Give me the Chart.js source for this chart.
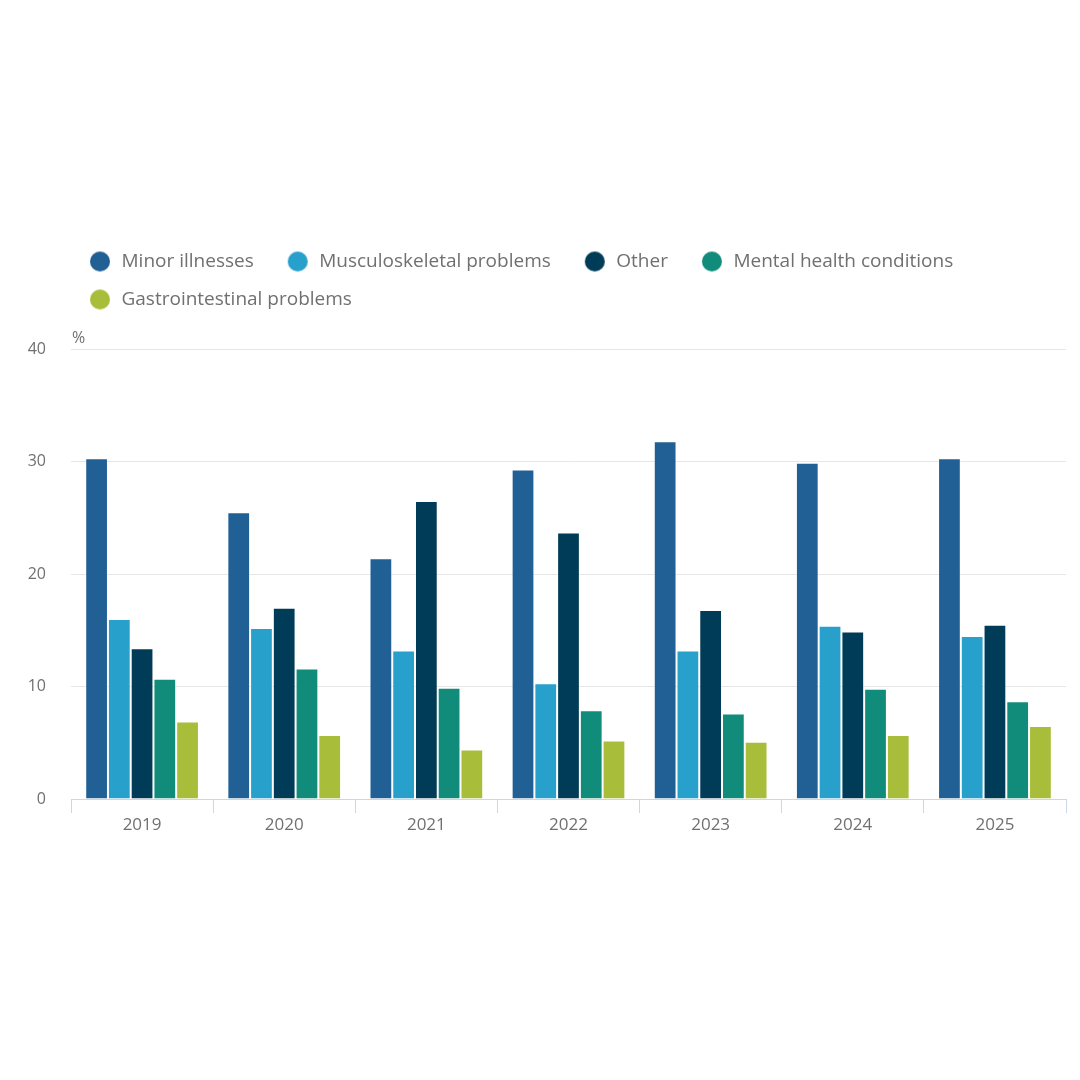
<!DOCTYPE html>
<html>
<head>
<meta charset="utf-8">
<script src="https://cdn.jsdelivr.net/npm/chart.js@4.4.1/dist/chart.umd.min.js"></script>
<style>
html,body{margin:0;padding:0;background:#fff;}
#wrap{width:1080px;height:1080px;position:relative;}
</style>
</head>
<body>
<div id="wrap"><canvas id="c" width="1080" height="1080"></canvas></div>
<script>
const years = ['2019', '2020', '2021', '2022', '2023', '2024', '2025'];
const seriesNames = ['Minor illnesses', 'Musculoskeletal problems', 'Other', 'Mental health conditions', 'Gastrointestinal problems'];
const minorIllnesses = [30.3, 25.5, 21.4, 29.3, 31.8, 29.9, 30.3];
const musculoskeletal = [16.0, 15.2, 13.2, 10.3, 13.2, 15.4, 14.5];
const other = [13.4, 17.0, 26.5, 23.7, 16.8, 14.9, 15.5];
const mentalHealth = [10.7, 11.6, 9.9, 7.9, 7.6, 9.8, 8.7];
const gastrointestinal = [6.9, 5.7, 4.4, 5.2, 5.1, 5.7, 6.5];
const yTicks = [0, 10, 20, 30, 40];
const unitLabel = '%';

const colors = ['#206095', '#27a0cc', '#003c57', '#118c7b', '#a8bd3a'];
const textColor = '#707070';
const FONT = "'Open Sans', 'Noto Sans', sans-serif";

function dot(color) {
  const c = document.createElement('canvas');
  c.width = 37; c.height = 22;
  const g = c.getContext('2d');
  g.fillStyle = color;
  g.beginPath();
  g.arc(25, 11, 10, 0, Math.PI * 2);
  g.fill();
  return c;
}
const dots = colors.map(dot);

const allValues = [minorIllnesses, musculoskeletal, other, mentalHealth, gastrointestinal];
const datasets = allValues.map((vals, i) => ({
  label: seriesNames[i],
  data: vals,
  backgroundColor: colors[i],
  borderColor: 'rgba(255,255,255,0.3)',
  borderWidth: 1,
  barPercentage: 1,
  categoryPercentage: 0.8
}));

const unitPlugin = {
  id: 'unitLabel',
  afterInit(chart) {
    const lg = chart.legend;
    if (lg && !lg._patched) {
      const orig = lg.fit.bind(lg);
      lg.fit = function () { orig(); this.height += 30; };
      lg._patched = true;
    }
  },
  afterLayout(chart) {
    const lg = chart.legend;
    if (lg) { lg.left = 56; }
  },
  afterDraw(chart) {
    const ctx = chart.ctx;
    const a = chart.chartArea;
    ctx.save();
    ctx.font = '16px ' + FONT;
    ctx.fillStyle = textColor;
    ctx.textAlign = 'left';
    ctx.textBaseline = 'middle';
    ctx.fillText(unitLabel, a.left + 1, a.top - 11);
    ctx.restore();
  }
};

new Chart(document.getElementById('c'), {
  type: 'bar',
  data: { labels: years, datasets },
  plugins: [unitPlugin],
  options: {
    responsive: false,
    animation: false,
    layout: { padding: { top: 233, left: 0, right: 14, bottom: 241 } },
    plugins: {
      tooltip: { enabled: false },
      legend: {
        position: 'top',
        align: 'start',
        labels: {
          usePointStyle: true,
          pointStyleWidth: 37,
          padding: 19,
          color: textColor,
          font: { family: FONT, size: 19 },
          generateLabels(chart) {
            return Chart.defaults.plugins.legend.labels.generateLabels(chart).map((l, i) => ({
              ...l, pointStyle: dots[i], fillStyle: colors[i], strokeStyle: 'rgba(0,0,0,0)', lineWidth: 0
            }));
          }
        }
      }
    },
    scales: {
      x: {
        afterFit(s) { s.height = 40; },
        grid: { display: true, drawOnChartArea: false, drawTicks: true, tickLength: 14, color: '#ccd6eb', offset: true },
        border: { display: true, color: '#ccd6eb', width: 1 },
        ticks: { color: textColor, font: { family: FONT, size: 17 }, padding: 2 }
      },
      y: {
        min: yTicks[0], max: yTicks[yTicks.length - 1],
        afterFit(s) { s.width = 71; },
        grid: { color: '#e6e6e6', drawTicks: false },
        border: { display: false },
        ticks: {
          stepSize: 10,
          color: textColor,
          font: { family: FONT, size: 16 },
          padding: 25,
          callback: (v) => (yTicks.includes(v) ? String(v) : '')
        }
      }
    }
  }
});
</script>
</body>
</html>
